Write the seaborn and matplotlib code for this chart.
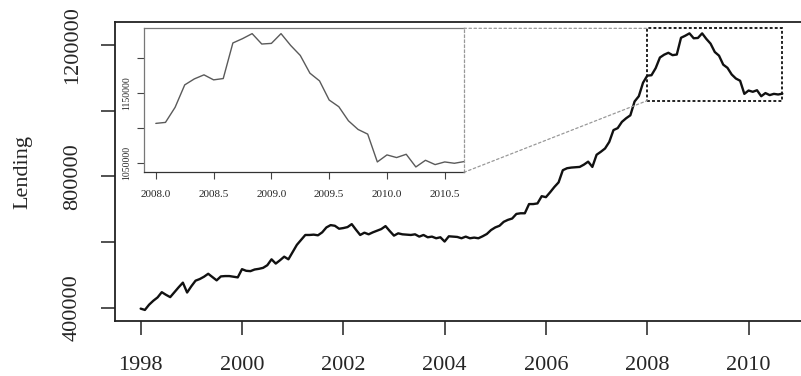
import numpy as np
import pandas as pd
import matplotlib
matplotlib.use("Agg")
import matplotlib.pyplot as plt
from matplotlib.patches import Rectangle, ConnectionPatch
import seaborn as sns

# Monthly lending, January 1998 to September 2010
lending_1998_2007 = [
    398000, 394000, 410000, 422000, 432000, 448000, 440000, 433000, 448000, 463000, 477000, 447000,
    466000, 483000, 488000, 495000, 504000, 494000, 484000, 496000, 497000, 497000, 495000, 493000,
    518000, 513000, 512000, 517000, 519000, 522000, 530000, 548000, 535000, 545000, 556000, 548000,
    570000, 592000, 607000, 622000, 622000, 623000, 621000, 630000, 645000, 652000, 650000, 641000,
    643000, 646000, 655000, 638000, 622000, 629000, 624000, 630000, 635000, 640000, 649000, 634000,
    620000, 627000, 624000, 623000, 622000, 624000, 617000, 622000, 615000, 617000, 612000, 615000,
    602000, 618000, 617000, 616000, 612000, 617000, 612000, 614000, 612000, 618000, 625000, 637000,
    645000, 650000, 662000, 668000, 672000, 686000, 688000, 688000, 716000, 716000, 718000, 740000,
    737000, 752000, 768000, 782000, 819000, 825000, 827000, 828000, 829000, 836000, 845000, 829000,
    866000, 875000, 885000, 905000, 941000, 947000, 966000, 977000, 986000, 1028000, 1044000, 1085000,
]
lending_2008_2010 = [
    1106500, 1107900, 1129500, 1161700, 1170300, 1176100, 1168900, 1170800, 1221800, 1228000, 1235200, 1220300,
    1221200, 1235200, 1218300, 1203900, 1178500, 1167400, 1140000, 1130400, 1110200, 1097800, 1091100, 1051200,
    1061300, 1057500, 1062200, 1044000, 1053600, 1047400, 1051200, 1049300, 1051700,
]
start_year = 1998
main_xticks = [1998, 2000, 2002, 2004, 2006, 2008, 2010]
main_yticks = [400000, 600000, 800000, 1000000, 1200000]
main_ylabels = ["400000", "", "800000", "", "1200000"]
zoom_start = 2008.0
inset_xticks = [2008.0, 2008.5, 2009.0, 2009.5, 2010.0, 2010.5]
inset_yticks = [1050000, 1100000, 1150000, 1200000]
inset_ylabels = ["1050000", "", "1150000", ""]

values = lending_1998_2007 + lending_2008_2010
df = pd.DataFrame({
    "time": start_year + np.arange(len(values)) / 12.0,
    "Lending": values,
})
zoom = df[df["time"] >= zoom_start - 1e-9]

sns.set_style("ticks")
plt.rcParams["font.family"] = "serif"
plt.rcParams["font.serif"] = ["Liberation Serif", "Times New Roman", "DejaVu Serif"]

W, H = 801, 376
fig = plt.figure(figsize=(W / 100, H / 100), dpi=100)

# main panel (box extends past the right edge of the canvas)
ax = fig.add_axes([115 / W, 1 - 321 / H, 693 / W, 298.7 / H])
sns.lineplot(data=df, x="time", y="Lending", ax=ax, color="#111111", lw=1.7)

tmin, tmax = df["time"].min(), df["time"].max()
tr = tmax - tmin
ax.set_xlim(tmin - 0.04 * tr, tmax + 0.04 * tr)
vmin, vmax = df["Lending"].min(), df["Lending"].max()
vr = vmax - vmin
ax.set_ylim(vmin - 0.04 * vr, vmax + 0.04 * vr)

ax.set_xticks(main_xticks)
ax.set_xticklabels([str(t) for t in main_xticks], fontsize=16)
ax.set_yticks(main_yticks)
ax.set_yticklabels(main_ylabels, fontsize=16, rotation=90, va="center")
ax.tick_params(axis="both", length=10, width=1.1, color="#222222", direction="out")
ax.tick_params(axis="x", pad=15)
ax.tick_params(axis="y", pad=14)
ax.set_xlabel("")
ax.set_ylabel("Lending", fontsize=16, labelpad=22)
for s in ax.spines.values():
    s.set_visible(True)
    s.set_linewidth(1.3)
    s.set_color("#222222")

# dotted window around the zoomed period
z_lo, z_hi = zoom["Lending"].min(), zoom["Lending"].max()
zr = z_hi - z_lo
rect_y0 = z_lo - 0.07 * zr
rect_y1 = z_hi + 0.08 * zr
rect = Rectangle((zoom_start, rect_y0), tmax - zoom_start, rect_y1 - rect_y0,
                 fill=False, ec="#111111", lw=1.3, ls=(0, (1.6, 1.2)), zorder=3)
ax.add_patch(rect)

# inset panel
axi = fig.add_axes([143.5 / W, 1 - 172.3 / H, 320.5 / W, 144 / H])
axi.set_facecolor("white")
sns.lineplot(data=zoom, x="time", y="Lending", ax=axi, color="#5a5a5a", lw=1.0)
zt = tmax - zoom_start
axi.set_xlim(zoom_start - 0.04 * zt, tmax)
axi.set_ylim(z_lo - 0.04 * zr, z_hi + 0.04 * zr)
axi.set_xticks(inset_xticks)
axi.set_xticklabels([f"{t:.1f}" for t in inset_xticks], fontsize=8)
axi.set_yticks(inset_yticks)
axi.set_yticklabels(inset_ylabels, fontsize=7, rotation=90, va="center")
axi.tick_params(axis="both", length=5, width=0.8, color="#444444", pad=4)
axi.tick_params(axis="x", pad=8)
axi.set_xlabel("")
axi.set_ylabel("")
for name, s in axi.spines.items():
    s.set_visible(True)
    s.set_linewidth(0.9)
    s.set_color("#777777")
axi.spines["bottom"].set_color("#333333")
axi.spines["right"].set_linestyle((0, (2, 2)))
axi.spines["right"].set_color("#999999")

# connectors from the inset to the window
for yi, ym in [(axi.get_ylim()[1], rect_y1), (axi.get_ylim()[0], rect_y0)]:
    con = ConnectionPatch(xyA=(tmax, yi), coordsA=axi.transData,
                          xyB=(zoom_start, ym), coordsB=ax.transData,
                          color="#999999", lw=0.9, ls=(0, (2, 2)))
    fig.add_artist(con)

fig.savefig("out.png", dpi=100)
